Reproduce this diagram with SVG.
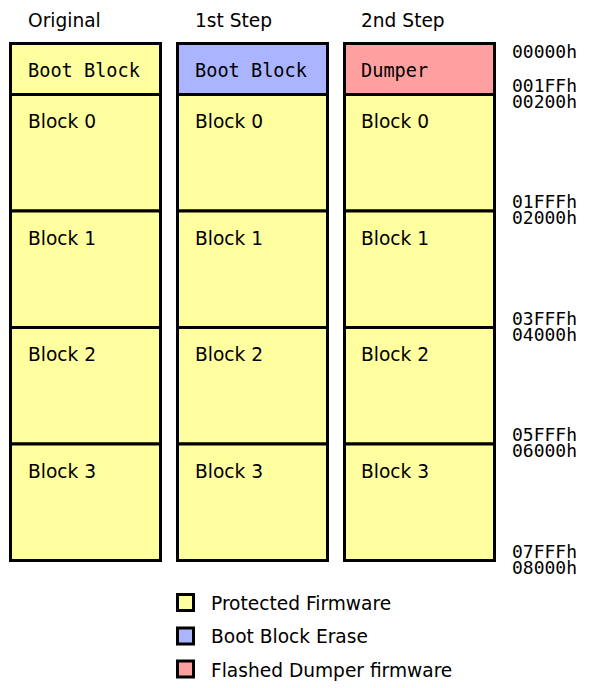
<svg xmlns="http://www.w3.org/2000/svg" width="590" height="688" viewBox="0 0 590 688">
  <style>
    .blk { stroke: #000; stroke-width: 3; }
    .prot { fill: #ffffa0; }
    .erase { fill: #aab4ff; }
    .dump { fill: #ffa0a0; }
    .lbl { font-family: "DejaVu Sans", sans-serif; font-size: 18.6px; fill: #000; }
    .mono { font-family: "DejaVu Sans Mono", monospace; font-size: 18.6px; fill: #000; }
    .addr { font-family: "DejaVu Sans Mono", monospace; font-size: 18px; fill: #000; }
  </style>
  <rect width="590" height="688" fill="#fff"/>

  <!-- column headers -->
  <g id="headers">
    <text class="lbl" x="28" y="27">Original</text>
    <text class="lbl" x="195" y="27">1st Step</text>
    <text class="lbl" x="361" y="27">2nd Step</text>
  </g>

  <!-- original image -->
  <g id="col-original">
    <g id="orig-boot"><rect class="blk prot" x="10.5" y="43.5" width="150" height="51"/><text class="mono" x="28" y="77">Boot Block</text></g>
    <g id="orig-b0"><rect class="blk prot" x="10.5" y="94.5" width="150" height="116.5"/><text class="lbl" x="28" y="128">Block 0</text></g>
    <g id="orig-b1"><rect class="blk prot" x="10.5" y="211" width="150" height="116.5"/><text class="lbl" x="28" y="245">Block 1</text></g>
    <g id="orig-b2"><rect class="blk prot" x="10.5" y="327.5" width="150" height="116.5"/><text class="lbl" x="28" y="361">Block 2</text></g>
    <g id="orig-b3"><rect class="blk prot" x="10.5" y="444" width="150" height="116.5"/><text class="lbl" x="28" y="478">Block 3</text></g>
  </g>

  <!-- after boot block erase -->
  <g id="col-step1">
    <g id="s1-boot"><rect class="blk erase" x="177.5" y="43.5" width="150" height="51"/><text class="mono" x="195" y="77">Boot Block</text></g>
    <g id="s1-b0"><rect class="blk prot" x="177.5" y="94.5" width="150" height="116.5"/><text class="lbl" x="195" y="128">Block 0</text></g>
    <g id="s1-b1"><rect class="blk prot" x="177.5" y="211" width="150" height="116.5"/><text class="lbl" x="195" y="245">Block 1</text></g>
    <g id="s1-b2"><rect class="blk prot" x="177.5" y="327.5" width="150" height="116.5"/><text class="lbl" x="195" y="361">Block 2</text></g>
    <g id="s1-b3"><rect class="blk prot" x="177.5" y="444" width="150" height="116.5"/><text class="lbl" x="195" y="478">Block 3</text></g>
  </g>

  <!-- after flashing the dumper -->
  <g id="col-step2">
    <g id="s2-boot"><rect class="blk dump" x="344.5" y="43.5" width="150" height="51"/><text class="mono" x="361" y="77">Dumper</text></g>
    <g id="s2-b0"><rect class="blk prot" x="344.5" y="94.5" width="150" height="116.5"/><text class="lbl" x="361" y="128">Block 0</text></g>
    <g id="s2-b1"><rect class="blk prot" x="344.5" y="211" width="150" height="116.5"/><text class="lbl" x="361" y="245">Block 1</text></g>
    <g id="s2-b2"><rect class="blk prot" x="344.5" y="327.5" width="150" height="116.5"/><text class="lbl" x="361" y="361">Block 2</text></g>
    <g id="s2-b3"><rect class="blk prot" x="344.5" y="444" width="150" height="116.5"/><text class="lbl" x="361" y="478">Block 3</text></g>
  </g>

  <!-- address ruler -->
  <g id="addresses">
    <text class="addr" x="512" y="58">00000h</text>
    <text class="addr" x="512" y="92">001FFh</text>
    <text class="addr" x="512" y="108">00200h</text>
    <text class="addr" x="512" y="208">01FFFh</text>
    <text class="addr" x="512" y="224">02000h</text>
    <text class="addr" x="512" y="325">03FFFh</text>
    <text class="addr" x="512" y="341">04000h</text>
    <text class="addr" x="512" y="441">05FFFh</text>
    <text class="addr" x="512" y="457">06000h</text>
    <text class="addr" x="512" y="558">07FFFh</text>
    <text class="addr" x="512" y="574">08000h</text>
  </g>

  <!-- legend -->
  <g id="legend">
    <g id="leg-prot"><rect class="blk prot" x="177.5" y="594.5" width="16" height="16"/><text class="lbl" x="211" y="610">Protected Firmware</text></g>
    <g id="leg-erase"><rect class="blk erase" x="177.5" y="628" width="16" height="16"/><text class="lbl" x="211" y="643">Boot Block Erase</text></g>
    <g id="leg-dump"><rect class="blk dump" x="177.5" y="661" width="16" height="16"/><text class="lbl" x="211" y="677">Flashed Dumper firmware</text></g>
  </g>
</svg>
